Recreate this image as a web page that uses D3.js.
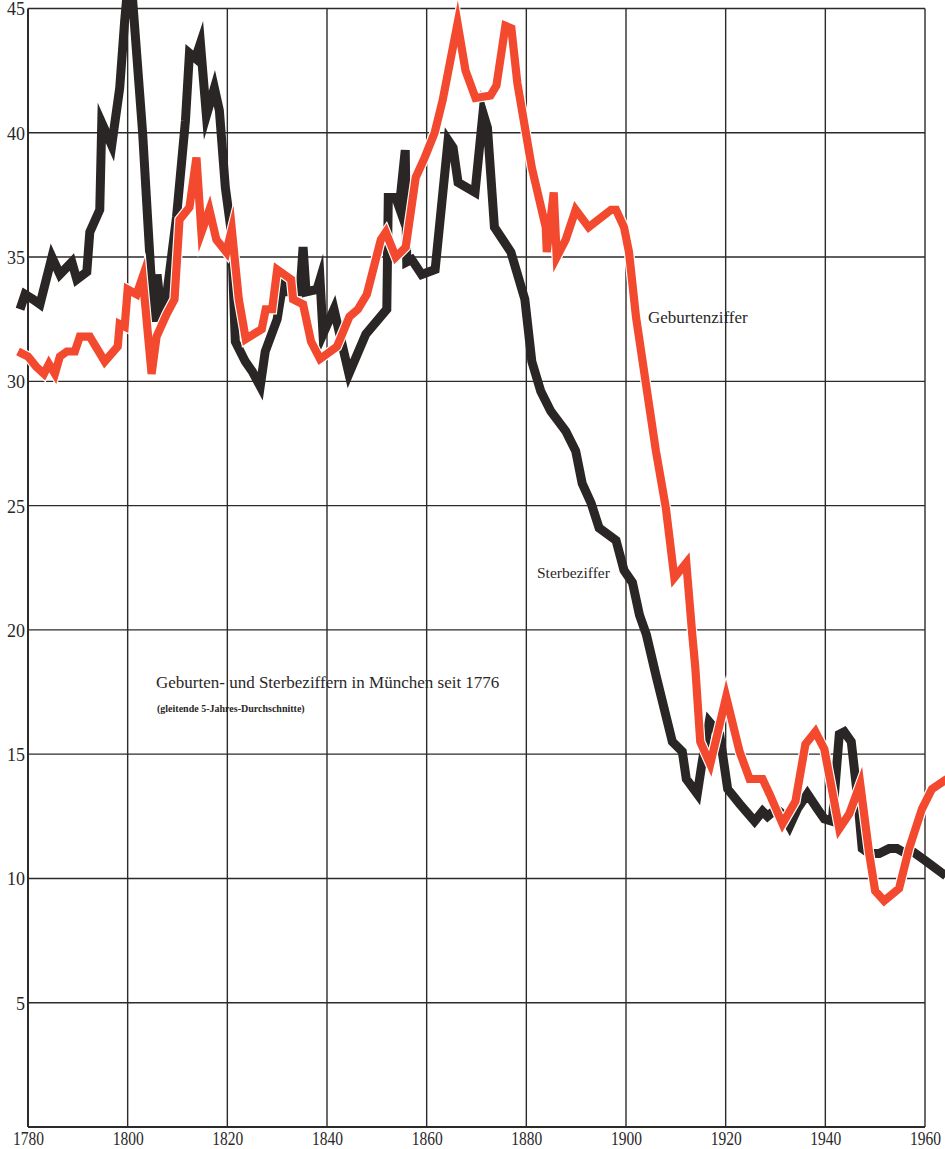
<!DOCTYPE html>
<html>
<head>
<meta charset="utf-8">
<script src="https://cdn.jsdelivr.net/npm/d3@7"></script>
<style>
  html, body { margin: 0; padding: 0; background: #fff; }
  .canvas { width: 945px; height: 1149px; }
  text { font-family: "Liberation Serif", "DejaVu Serif", serif; fill: #2a2727; }
</style>
</head>
<body>
<div class="canvas"></div>
<script>
// Sterbeziffer (black), [year, per 1000]
const deathRate = [
  [1778.4, 32.9], [1779.4, 33.5], [1781, 33.3], [1782.4, 33.1], [1784.8, 35.0], [1786.4, 34.3],
  [1788.8, 34.8], [1789.8, 34.1], [1791.8, 34.4], [1792.4, 36.0], [1794.4, 36.9], [1794.8, 40.4],
  [1796.8, 39.5], [1798.4, 41.8], [1799.4, 44.5], [1800.2, 46.3], [1800.9, 45.6], [1803, 40.0],
  [1804.6, 34.5], [1805.4, 32.4], [1805.9, 34.3], [1806.7, 32.8], [1807.6, 33.1], [1809.8, 36.6],
  [1811.6, 40.5], [1812.4, 43.2], [1813.6, 43.0], [1814.6, 43.6], [1815.8, 40.7], [1817.4, 41.8],
  [1818.4, 40.9], [1819.6, 37.8], [1820.8, 36.0], [1821.6, 31.6], [1823.6, 30.8], [1825, 30.4],
  [1826.6, 29.8], [1827.6, 31.2], [1830, 32.5], [1831.2, 34.0], [1832.2, 33.6], [1834.6, 33.6],
  [1835.2, 35.4], [1835.8, 33.6], [1838, 33.7], [1838.6, 34.1], [1839.2, 31.9], [1841.4, 32.9],
  [1844.4, 30.3], [1847.8, 31.9], [1852, 32.9], [1852.3, 37.4], [1853.8, 37.4], [1854.5, 37.0],
  [1855.7, 39.3], [1856, 34.8], [1857, 34.9], [1859, 34.3], [1861.7, 34.5], [1864.3, 39.7],
  [1865.3, 39.4], [1866.3, 38.0], [1869.7, 37.6], [1871.3, 40.8], [1872.2, 40.2], [1873.6, 36.2],
  [1876.9, 35.2], [1879.7, 33.3], [1881.1, 30.8], [1882.9, 29.6], [1884.9, 28.8], [1887.9, 28.0],
  [1889.9, 27.2], [1891.2, 25.9], [1893, 25.1], [1894.6, 24.1], [1898, 23.6], [1899.6, 22.4],
  [1901.3, 21.9], [1902.7, 20.6], [1904.1, 19.8], [1906.1, 18.1], [1909.3, 15.5], [1911.3, 15.1],
  [1912.1, 14.0], [1914.3, 13.4], [1915.3, 14.7], [1916.7, 16.3], [1918.8, 15.8], [1920.4, 13.6],
  [1922.8, 13.0], [1925.8, 12.3], [1927.4, 12.7], [1928.4, 12.5], [1930.2, 12.8], [1931.4, 12.6],
  [1932.8, 12.1], [1934.4, 12.8], [1936.4, 13.4], [1938.4, 12.8], [1939.8, 12.4], [1941.4, 12.3],
  [1942.8, 15.8], [1943.8, 15.9], [1945.2, 15.5], [1946.4, 13.4], [1947.4, 11.2], [1948.8, 11.0],
  [1950.8, 11.0], [1952.8, 11.2], [1954.4, 11.2], [1956.2, 11.0], [1957.4, 11.1], [1960.2, 10.7],
  [1964.2, 10.1]
]

// Geburtenziffer (red)
const birthRate = [
  [1778, 31.2], [1780, 31.0], [1781.6, 30.6], [1783.2, 30.3], [1784.2, 30.7], [1785.4, 30.3],
  [1786.4, 31.0], [1787.8, 31.2], [1789.4, 31.2], [1790.4, 31.8], [1792.4, 31.8], [1795.4, 30.8],
  [1798, 31.4], [1798.4, 32.3], [1799.4, 32.2], [1800, 33.7], [1801.8, 33.5], [1803, 34.2],
  [1804.8, 30.3], [1805.8, 31.8], [1807.8, 32.7], [1809.4, 33.3], [1810.4, 36.5], [1812.4, 37.0],
  [1813.8, 39.0], [1814.8, 36.0], [1816.4, 36.9], [1817.8, 35.7], [1819.8, 35.2], [1820.9, 36.1],
  [1822.3, 33.3], [1823.7, 31.7], [1826.9, 32.1], [1827.7, 32.9], [1829, 32.9], [1830, 34.5],
  [1832.8, 34.1], [1833.2, 33.3], [1835.2, 33.1], [1836.8, 31.6], [1838.6, 30.9], [1842, 31.4],
  [1844.5, 32.6], [1846.2, 32.9], [1848, 33.5], [1850.8, 35.7], [1851.8, 36.0], [1853.8, 35.0],
  [1855.8, 35.4], [1857.8, 38.2], [1859.6, 39.0], [1861.6, 40.0], [1863.2, 41.3], [1866.2, 44.4],
  [1867.8, 42.5], [1869.8, 41.4], [1872.8, 41.5], [1874, 41.9], [1875.8, 44.3], [1877, 44.2],
  [1878.2, 42.0], [1881.1, 38.6], [1883.9, 36.2], [1884.1, 35.2], [1885.5, 37.6], [1886.1, 35.0],
  [1887.9, 35.7], [1889.9, 36.9], [1892.5, 36.2], [1897, 36.9], [1898, 36.9], [1899.6, 36.2],
  [1900.6, 35.2], [1902, 32.6], [1904, 29.9], [1906, 27.2], [1908, 24.9], [1909.7, 22.1],
  [1912.1, 22.7], [1913.3, 19.8], [1913.9, 18.5], [1914.9, 15.5], [1916.9, 14.6], [1920.1, 17.3],
  [1922.8, 15.1], [1924.8, 14.0], [1927.4, 14.0], [1928.8, 13.4], [1931.4, 12.2], [1934, 13.1],
  [1936, 15.4], [1938, 15.9], [1939.8, 15.2], [1941.4, 13.5], [1942.8, 12.0], [1944.8, 12.6],
  [1947, 13.8], [1948.8, 11.0], [1950, 9.5], [1951.8, 9.1], [1954.8, 9.6], [1956.8, 11.2],
  [1959.4, 12.8], [1961.4, 13.6], [1964.4, 14.0]
]

const yearTicks = [1780, 1800, 1820, 1840, 1860, 1880, 1900, 1920, 1940, 1960]
const rateTicks = [5, 10, 15, 20, 25, 30, 35, 40, 45]
const rateGrid = [0, 5, 10, 15, 20, 25, 30, 35, 40, 45]

const drawChart = (width, height) => {

    const ink = "#2d2a2a"
    const red = "#f2492f"

    const svg = d3.select(".canvas").append("svg").attr("width", width).attr("height", height)

    //scales
    const x = d3.scaleLinear().domain([1780, 1960]).range([28, 925])
    const y = d3.scaleLinear().domain([0, 45]).range([1127, 8.5])

    // grid
    const grid = svg.append("g")
    grid.selectAll(".hline").data(rateGrid).enter().append("line")
        .attr("x1", x(1780)).attr("x2", x(1960))
        .attr("y1", d => y(d)).attr("y2", d => y(d))
        .attr("stroke", ink).attr("stroke-width", d => d === 0 ? 2 : 1.4)
    grid.selectAll(".vline").data(yearTicks).enter().append("line")
        .attr("x1", d => x(d)).attr("x2", d => x(d))
        .attr("y1", y(45)).attr("y2", y(0))
        .attr("stroke", ink).attr("stroke-width", d => d === 1780 ? 2 : 1.4)

    // axes (labels only)
    const xAxis = d3.axisBottom(x).tickValues(yearTicks).tickSize(0).tickFormat(d => d)
    const yAxis = d3.axisLeft(y).tickValues(rateTicks).tickSize(0).tickFormat(d => d)

    const xAxisGroup = svg.append("g").attr("transform", `translate(0, ${y(0)})`).call(xAxis)
    xAxisGroup.select(".domain").remove()
    xAxisGroup.selectAll("text")
        .attr("y", 18).attr("dy", 0)
        .attr("font-size", 18)
        .attr("textLength", 31).attr("lengthAdjust", "spacingAndGlyphs")
        .attr("fill", ink)

    const yAxisGroup = svg.append("g").attr("transform", `translate(${x(1780)}, 0)`).call(yAxis)
    yAxisGroup.select(".domain").remove()
    yAxisGroup.selectAll("text")
        .attr("x", -3).attr("dy", "0.36em")
        .attr("font-size", 18)
        .attr("fill", ink)

    // lines
    const line = d3.line().x(d => x(d[0])).y(d => y(d[1]))

    svg.append("path").datum(deathRate)
        .attr("d", line).attr("fill", "none")
        .attr("stroke", "#2b2626").attr("stroke-width", 9)
        .attr("stroke-linejoin", "miter").attr("stroke-miterlimit", 6)

    svg.append("path").datum(birthRate)
        .attr("d", line).attr("fill", "none")
        .attr("stroke", "#fff").attr("stroke-width", 10.5)
        .attr("stroke-linejoin", "miter").attr("stroke-miterlimit", 6)

    svg.append("path").datum(birthRate)
        .attr("d", line).attr("fill", "none")
        .attr("stroke", red).attr("stroke-width", 8.2)
        .attr("stroke-linejoin", "miter").attr("stroke-miterlimit", 6)

    // labels
    svg.append("text").attr("x", 648).attr("y", 323).attr("font-size", 17).text("Geburtenziffer")
    svg.append("text").attr("x", 537).attr("y", 578).attr("font-size", 15.5).text("Sterbeziffer")

    svg.append("text").attr("x", 156).attr("y", 688).attr("font-size", 17)
        .text("Geburten- und Sterbeziffern in München seit 1776")
    svg.append("text").attr("x", 157).attr("y", 712).attr("font-size", 10).attr("font-weight", "bold")
        .text("(gleitende 5-Jahres-Durchschnitte)")
}

drawChart(945, 1149)
</script>
</body>
</html>
